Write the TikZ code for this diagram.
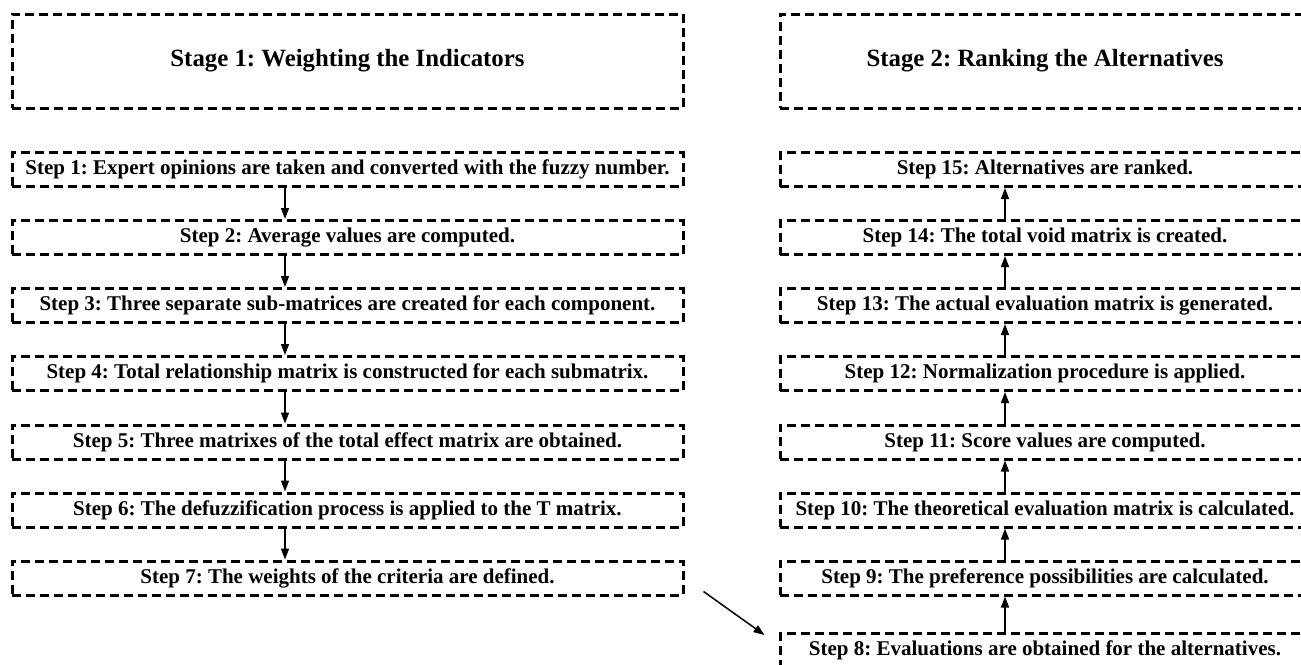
\documentclass[tikz,border=0pt]{standalone}
\usepackage{fontspec}
\setmainfont{Liberation Serif}
\usetikzlibrary{arrows.meta,calc}
\begin{document}
\frenchspacing
\begin{tikzpicture}[x=1pt,y=-1pt,
  box/.style={draw, line width=3pt, dash pattern=on 9pt off 5pt, inner sep=0pt},
  leftw/.style={minimum width=671pt},
  rightw/.style={minimum width=530pt},
  stagebox/.style={box, minimum height=94pt, font=\fontsize{24.8}{28}\selectfont\bfseries},
  stepbox/.style={box, minimum height=34pt, font=\fontsize{21}{24}\selectfont\bfseries},
  arr/.style={line width=1.5pt, -{Triangle[length=11pt,width=8pt]}}]
\useasboundingbox (0,0) rectangle (1301,664);
\clip (0,0) rectangle (1301,664);
% left column
\node[stagebox,leftw] (st1) at (347.5,61) {Stage 1: Weighting the Indicators};
\node[stepbox,leftw] (s1) at (347.5,169.5) {Step 1: Expert opinions are taken and converted with the fuzzy number.};
\node[stepbox,leftw] (s2) at (347.5,237.5) {Step 2: Average values are computed.};
\node[stepbox,leftw] (s3) at (347.5,305.5) {Step 3: Three separate sub-matrices are created for each component.};
\node[stepbox,leftw] (s4) at (347.5,373.5) {Step 4: Total relationship matrix is constructed for each submatrix.};
\node[stepbox,leftw] (s5) at (347.5,442) {Step 5: Three matrixes of the total effect matrix are obtained.};
\node[stepbox,leftw] (s6) at (347.5,510) {Step 6: The defuzzification process is applied to the T matrix.};
\node[stepbox,leftw] (s7) at (347.5,578) {Step 7: The weights of the criteria are defined.};
\coordinate (xl) at (285,0);
\foreach \a/\b in {s1/s2,s2/s3,s3/s4,s4/s5,s5/s6,s6/s7}
  \draw[arr] (\a.south -| xl) -- (\b.north -| xl);
% right column
\node[stagebox,rightw] (st2) at (1045,61) {Stage 2: Ranking the Alternatives};
\node[stepbox,rightw] (s15) at (1045,169.5) {Step 15: Alternatives are ranked.};
\node[stepbox,rightw] (s14) at (1045,237.5) {Step 14: The total void matrix is created.};
\node[stepbox,rightw] (s13) at (1045,305.5) {Step 13: The actual evaluation matrix is generated.};
\node[stepbox,rightw] (s12) at (1045,373.5) {Step 12: Normalization procedure is applied.};
\node[stepbox,rightw] (s11) at (1045,442) {Step 11: Score values are computed.};
\node[stepbox,rightw] (s10) at (1045,510) {Step 10: The theoretical evaluation matrix is calculated.};
\node[stepbox,rightw] (s9) at (1045,578) {Step 9: The preference possibilities are calculated.};
\node[stepbox,rightw] (s8) at (1045,650.5) {Step 8: Evaluations are obtained for the alternatives.};
\coordinate (xr) at (1005,0);
\foreach \a/\b in {s8/s9,s9/s10,s10/s11,s11/s12,s12/s13,s13/s14,s14/s15}
  \draw[arr] (\a.north -| xr) -- (\b.south -| xr);
% link between stages
\coordinate (d1) at ($(s7.south east)+(19,-5)$);
\coordinate (d2) at ($(s8.north west)+(-14,3)$);
\draw[arr] (d1) -- (d2);
\end{tikzpicture}
\end{document}
